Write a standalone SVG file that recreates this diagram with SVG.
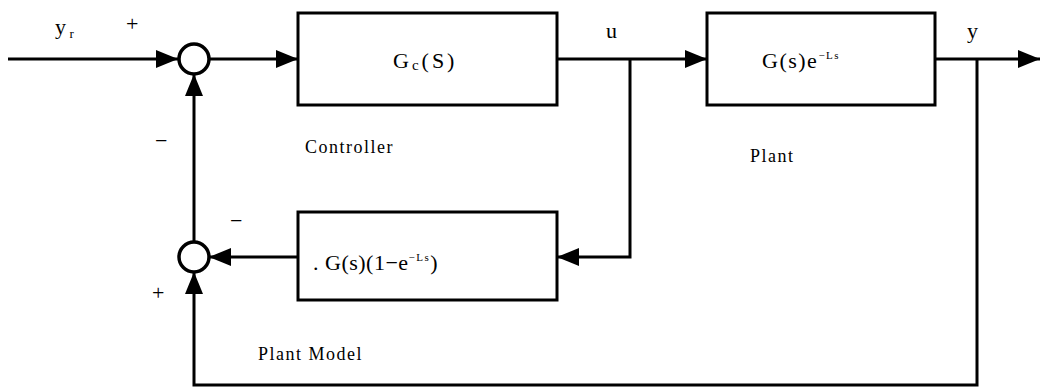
<svg xmlns="http://www.w3.org/2000/svg" width="1040" height="392" viewBox="0 0 1040 392" font-family="'Liberation Serif', 'DejaVu Serif', serif">
<defs>
<style>
.ln{stroke:#000;stroke-width:3;fill:none}
.bx{stroke:#000;stroke-width:3;fill:#fff}
.sm{stroke:#000;stroke-width:3.5;fill:#fff}
text{font-family:'Liberation Serif','DejaVu Serif',serif;fill:#000}
.lb{font-size:18px;letter-spacing:1.5px}
.tf{font-size:22px;letter-spacing:0.5px}
.sp{font-size:11px;letter-spacing:1.5px}
</style>
<marker id="ah" viewBox="0 0 22 18" refX="22" refY="9" markerWidth="22" markerHeight="18" markerUnits="userSpaceOnUse" orient="auto">
<path d="M0,0 L22,9 L0,18 Z" fill="#000"/>
</marker>
</defs>
<rect width="1040" height="392" fill="#fff"/>
<g id="connectors">
<line class="ln" x1="8" y1="59" x2="178" y2="59" marker-end="url(#ah)"/>
<line class="ln" x1="209" y1="59" x2="298" y2="59" marker-end="url(#ah)"/>
<line class="ln" x1="557" y1="59" x2="707" y2="59" marker-end="url(#ah)"/>
<line class="ln" x1="935" y1="59" x2="1040" y2="59" marker-end="url(#ah)"/>
<polyline class="ln" points="630,59 630,257 557,257" marker-end="url(#ah)"/>
<line class="ln" x1="298" y1="257" x2="209" y2="257" marker-end="url(#ah)"/>
<line class="ln" x1="194" y1="242" x2="194" y2="74" marker-end="url(#ah)"/>
<polyline class="ln" points="977,59 977,385 194,385 194,272" marker-end="url(#ah)"/>
</g>
<g id="sum1"><circle class="sm" cx="194" cy="59" r="15"/></g>
<g id="sum2"><circle class="sm" cx="194" cy="257" r="15"/></g>
<g id="controller">
<rect class="bx" x="298" y="13" width="259" height="92"/>
<text class="tf" x="393" y="68" style="letter-spacing:3px">G<tspan font-size="15" dy="2">c</tspan><tspan dy="-2">(S)</tspan></text>
<text class="lb" x="305" y="153">Controller</text>
</g>
<g id="plant">
<rect class="bx" x="707" y="13" width="228" height="92"/>
<text class="tf" x="762" y="68" style="letter-spacing:1.5px">G(s)e<tspan class="sp" dy="-9">−Ls</tspan></text>
<text class="lb" x="750" y="162">Plant</text>
</g>
<g id="model">
<rect class="bx" x="298" y="212" width="259" height="88"/>
<text class="tf" x="313" y="270">. G(s)(1−e<tspan class="sp" dy="-9">−Ls</tspan><tspan dy="9">)</tspan></text>
<text class="lb" x="258" y="360">Plant Model</text>
</g>
<g id="labels">
<text class="tf" x="55" y="34">y<tspan font-size="13" dx="3" dy="4">r</tspan></text>
<text class="tf" x="126" y="31">+</text>
<text class="tf" x="155" y="148">−</text>
<text class="tf" x="230" y="228">−</text>
<text class="tf" x="152" y="300">+</text>
<text class="tf" x="606" y="38">u</text>
<text class="tf" x="967" y="38">y</text>
</g>
</svg>
